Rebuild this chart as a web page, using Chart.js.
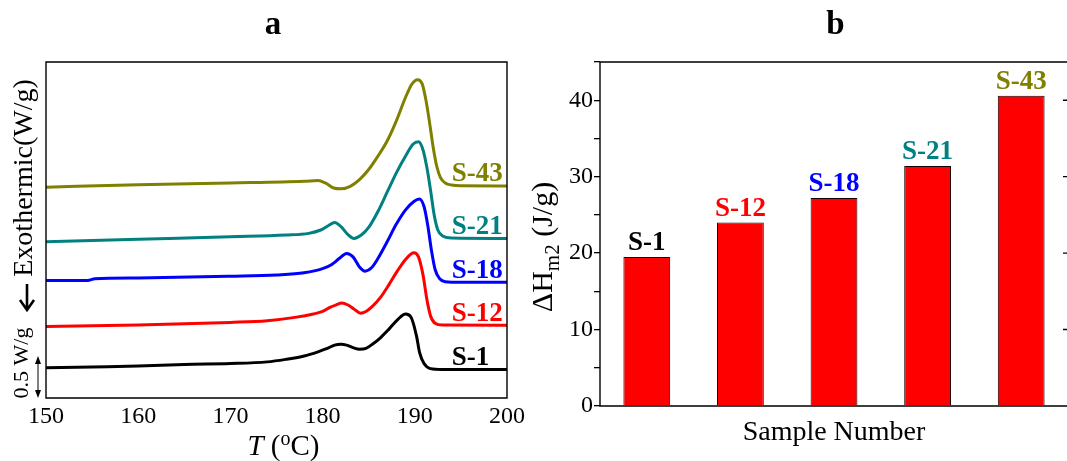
<!DOCTYPE html>
<html>
<head>
<meta charset="utf-8">
<title>DSC curves and melting enthalpy</title>
<script src="https://cdn.jsdelivr.net/npm/chart.js@4.4.1/dist/chart.umd.min.js"></script>
<style>
  html, body { margin: 0; padding: 0; background: #fff; overflow: hidden; }
  body { width: 1067px; height: 461px; position: relative; }
  canvas { position: absolute; top: 0; }
  #dsc { left: 0; }
  #enthalpy { left: 500px; }
</style>
</head>
<body>
<canvas id="dsc" width="546" height="461"></canvas>
<canvas id="enthalpy" width="671" height="461"></canvas>
<script>
const SERIF = '"Liberation Serif", "Times New Roman", serif';

const sampleNames = ['S-1', 'S-12', 'S-18', 'S-21', 'S-43'];
const sampleColors = ['#000000', '#ff0000', '#0000ff', '#008080', '#808000'];

// melting enthalpy of the second heating, J/g
const enthalpyM2 = [19.5, 24.0, 27.2, 31.4, 40.6];

// heating traces, [T (°C), heat flow (W/g, curves shifted apart)]
const curveS1 = [[150, 0.36], [155, 0.37], [160, 0.38], [165, 0.40], [170, 0.41], [174, 0.43], [176, 0.46],
  [178, 0.50], [179.5, 0.55], [180.5, 0.59], [181.3, 0.63], [182, 0.64], [182.6, 0.63], [183.3, 0.60],
  [184, 0.58], [184.7, 0.59], [185.4, 0.64], [186.3, 0.72], [187.2, 0.82], [188.2, 0.94], [189, 1.0],
  [189.6, 0.96], [190.2, 0.73], [190.5, 0.55], [191, 0.41], [191.7, 0.35], [193, 0.34], [200, 0.34]];
const curveS12 = [[150, 0.85], [160, 0.87], [170, 0.90], [174, 0.92], [177, 0.96], [179, 1.0], [180, 1.03],
  [180.8, 1.08], [181.5, 1.11], [182.1, 1.13], [182.7, 1.11], [183.4, 1.06], [184.1, 1.01], [184.7, 1.03],
  [185.4, 1.09], [186.3, 1.20], [187.2, 1.35], [188.1, 1.51], [189, 1.65], [189.9, 1.73], [190.4, 1.68],
  [190.9, 1.46], [191.3, 1.18], [191.7, 0.98], [192.2, 0.89], [193, 0.868], [200, 0.865]];
const curveS18 = [[150, 1.40], [154.5, 1.40], [155.3, 1.42], [160, 1.43], [170, 1.45], [175, 1.465], [178, 1.49],
  [180, 1.54], [181, 1.59], [181.8, 1.66], [182.6, 1.72], [183.3, 1.68], [184, 1.56], [184.6, 1.51],
  [185.3, 1.55], [186, 1.66], [187, 1.86], [188, 2.07], [189, 2.24], [189.9, 2.34], [190.5, 2.37],
  [191, 2.28], [191.4, 2.06], [191.8, 1.76], [192.2, 1.53], [192.7, 1.42], [193.3, 1.385], [195, 1.377],
  [200, 1.377]];
const curveS21 = [[150, 1.86], [160, 1.89], [170, 1.92], [176, 1.94], [178.5, 1.96], [179.8, 2.00], [180.6, 2.05],
  [181.3, 2.09], [182, 2.04], [182.7, 1.95], [183.4, 1.90], [184.2, 1.94], [185, 2.03], [186, 2.22],
  [187, 2.45], [188, 2.68], [189, 2.88], [189.8, 3.02], [190.4, 3.05], [190.9, 2.95], [191.3, 2.75],
  [191.7, 2.48], [192.1, 2.18], [192.5, 2.00], [193, 1.93], [194, 1.905], [200, 1.90]];
const curveS43 = [[150, 2.51], [160, 2.54], [170, 2.56], [178, 2.58], [179.5, 2.59], [180.3, 2.56], [181.2, 2.50],
  [182, 2.49], [183, 2.52], [184, 2.60], [185, 2.72], [186, 2.88], [187, 3.06], [188, 3.30], [189, 3.58],
  [189.7, 3.74], [190.3, 3.79], [190.8, 3.74], [191.2, 3.55], [191.6, 3.28], [192, 2.98], [192.4, 2.75],
  [192.8, 2.62], [193.3, 2.56], [194, 2.535], [195, 2.527], [200, 2.525]];

const curves = [curveS1, curveS12, curveS18, curveS21, curveS43];

// closed box round the plot area plus inward tick marks taken from the scales
const axisFrame = {
  id: 'axisFrame',
  afterDatasetsDraw(chart, args, opts) {
    const { ctx, chartArea: a } = chart;
    ctx.save();
    ctx.strokeStyle = '#000';
    ctx.lineWidth = opts.width;
    ctx.beginPath();
    for (const m of opts.marks) {
      const scale = chart.scales[m.scale];
      let values = scale.ticks.map(t => t.value);
      if (m.every) values = values.filter(v => v % m.every === 0);
      if (m.between) values = values.concat(values.slice(1).map(v => v - 0.5));
      for (const v of values) {
        const p = scale.getPixelForValue(v);
        if (m.side === 'bottom') { ctx.moveTo(p, a.bottom); ctx.lineTo(p, a.bottom - m.len); }
        if (m.side === 'top') { ctx.moveTo(p, a.top); ctx.lineTo(p, a.top + m.len); }
        if (m.side === 'left') { ctx.moveTo(a.left, p); ctx.lineTo(a.left + m.len, p); }
        if (m.side === 'right') { ctx.moveTo(a.right, p); ctx.lineTo(a.right - m.len, p); }
      }
    }
    ctx.rect(a.left, a.top, a.right - a.left, a.bottom - a.top);
    ctx.stroke();
    ctx.restore();
  }
};

// draws runs of text with their own fonts and baseline shifts, centred on (0,0)
function drawRuns(ctx, runs) {
  let total = 0;
  for (const r of runs) { ctx.font = r.font; total += ctx.measureText(r.text).width; }
  let x = -total / 2;
  ctx.textAlign = 'left';
  ctx.textBaseline = 'alphabetic';
  for (const r of runs) {
    ctx.font = r.font;
    ctx.fillText(r.text, x, r.shift || 0);
    x += ctx.measureText(r.text).width;
  }
}

const dscNotes = {
  id: 'dscNotes',
  afterDraw(chart) {
    const { ctx, chartArea: a, scales: { x, y } } = chart;
    ctx.save();

    ctx.font = `bold 27px ${SERIF}`;
    ctx.textAlign = 'left';
    ctx.textBaseline = 'alphabetic';
    chart.data.datasets.forEach((ds, i) => {
      const pts = chart.getDatasetMeta(i).data;
      const last = pts[pts.length - 1];
      ctx.fillStyle = ds.borderColor;
      ctx.fillText(ds.label, x.getPixelForValue(194.0), last.y - 4.5);
    });

    ctx.fillStyle = '#000';
    ctx.strokeStyle = '#000';
    ctx.save();
    ctx.translate(a.left - 21, 178);
    ctx.rotate(-Math.PI / 2);
    ctx.font = `28px ${SERIF}`;
    ctx.textAlign = 'center';
    ctx.textBaseline = 'middle';
    ctx.fillText('Exothermic(W/g)', 0, 0);
    ctx.restore();

    // downward arrow under the axis title
    const ax = a.left - 19;
    ctx.lineWidth = 2.6;
    ctx.beginPath();
    ctx.moveTo(ax, 284);
    ctx.lineTo(ax, 309);
    ctx.moveTo(ax - 7, 300);
    ctx.lineTo(ax, 310);
    ctx.lineTo(ax + 7, 300);
    ctx.stroke();

    ctx.save();
    ctx.translate(a.left - 24, 363);
    ctx.rotate(-Math.PI / 2);
    ctx.font = `22px ${SERIF}`;
    ctx.textAlign = 'center';
    ctx.textBaseline = 'middle';
    ctx.fillText('0.5 W/g', 0, 0);
    ctx.restore();

    // 0.5 W/g scale bar
    const bx = a.left - 8;
    const y0 = y.getPixelForValue(0.5);
    const y1 = y.getPixelForValue(0);
    ctx.lineWidth = 1;
    ctx.beginPath();
    ctx.moveTo(bx, y0 + 6);
    ctx.lineTo(bx, y1 - 6);
    ctx.stroke();
    ctx.beginPath();
    ctx.moveTo(bx, y0); ctx.lineTo(bx - 3, y0 + 8); ctx.lineTo(bx + 3, y0 + 8); ctx.closePath();
    ctx.moveTo(bx, y1); ctx.lineTo(bx - 3, y1 - 8); ctx.lineTo(bx + 3, y1 - 8); ctx.closePath();
    ctx.fill();

    ctx.save();
    ctx.translate((a.left + a.right) / 2 + 7, 455);
    drawRuns(ctx, [
      { font: `italic 29px ${SERIF}`, text: 'T' },
      { font: `29px ${SERIF}`, text: ' (' },
      { font: `20px ${SERIF}`, text: 'o', shift: -10 },
      { font: `29px ${SERIF}`, text: 'C)' }
    ]);
    ctx.restore();
    ctx.restore();
  }
};

const barNotes = {
  id: 'barNotes',
  afterDraw(chart) {
    const { ctx, chartArea: a } = chart;
    ctx.save();
    ctx.font = `bold 27px ${SERIF}`;
    ctx.textAlign = 'center';
    ctx.textBaseline = 'alphabetic';
    chart.getDatasetMeta(0).data.forEach((bar, i) => {
      ctx.fillStyle = sampleColors[i];
      ctx.fillText(sampleNames[i], bar.x, bar.y - 7);
    });

    ctx.fillStyle = '#000';
    ctx.translate(a.left - 48, 247);
    ctx.rotate(-Math.PI / 2);
    drawRuns(ctx, [
      { font: `30px ${SERIF}`, text: '\u0394H' },
      { font: `21px ${SERIF}`, text: 'm2', shift: 7 },
      { font: `30px ${SERIF}`, text: ' (J/g)' }
    ]);
    ctx.restore();
  }
};

const tickFont = { family: SERIF, size: 24 };
const hidden = { display: false, drawTicks: false };
const panelTitle = text => ({
  display: true, text, color: '#000',
  font: { family: SERIF, size: 33, weight: 'bold' },
  padding: { top: 5.3, bottom: 17.1 }
});

new Chart(document.getElementById('dsc'), {
  type: 'line',
  data: {
    datasets: curves.map((pts, i) => ({
      label: sampleNames[i],
      data: pts.map(p => ({ x: p[0], y: p[1] })),
      borderColor: sampleColors[i],
      borderWidth: 3,
      pointRadius: 0,
      cubicInterpolationMode: 'monotone',
      fill: false
    }))
  },
  options: {
    responsive: false,
    animation: false,
    events: [],
    plugins: {
      legend: { display: false },
      tooltip: { enabled: false },
      title: panelTitle('a'),
      axisFrame: {
        width: 1.4,
        marks: [
          { scale: 'x', side: 'bottom', len: 5 },
          { scale: 'x', side: 'top', len: 5 },
          { scale: 'y', side: 'left', len: 5 },
          { scale: 'y', side: 'right', len: 5 }
        ]
      }
    },
    scales: {
      x: {
        type: 'linear', min: 150, max: 200,
        ticks: {
          stepSize: 5, autoSkip: false, maxRotation: 0, padding: 4, color: '#000', font: tickFont,
          callback: v => (v % 10 === 0 ? v : '')
        },
        grid: hidden,
        border: { display: false },
        afterFit: s => { s.height = 63; }
      },
      y: {
        min: 0, max: 4,
        ticks: { stepSize: 0.5, display: false },
        grid: hidden,
        border: { display: false },
        afterFit: s => { s.width = 46; }
      },
      y2: {
        position: 'right', min: 0, max: 4,
        ticks: { display: false },
        grid: hidden,
        border: { display: false },
        afterFit: s => { s.width = 39; }
      }
    }
  },
  plugins: [axisFrame, dscNotes]
});

new Chart(document.getElementById('enthalpy'), {
  type: 'bar',
  data: {
    labels: sampleNames,
    datasets: [{
      data: enthalpyM2,
      backgroundColor: '#ff0000',
      borderColor: '#1a0000',
      borderWidth: 1,
      barPercentage: 0.5,
      categoryPercentage: 1
    }]
  },
  options: {
    responsive: false,
    animation: false,
    events: [],
    plugins: {
      legend: { display: false },
      tooltip: { enabled: false },
      title: panelTitle('b'),
      axisFrame: {
        width: 1.4,
        marks: [
          { scale: 'x', side: 'bottom', len: 5, between: true },
          { scale: 'x', side: 'top', len: 5, between: true },
          { scale: 'y', side: 'right', len: 5, every: 10 }
        ]
      }
    },
    scales: {
      x: {
        ticks: { display: false },
        grid: hidden,
        border: { display: false },
        title: {
          display: true, text: 'Sample Number', color: '#000',
          font: { family: SERIF, size: 28 }, padding: { top: 0, bottom: 12 }
        },
        afterFit: s => { s.height = 55; }
      },
      y: {
        min: 0, max: 45,
        ticks: {
          stepSize: 5, padding: 1, color: '#000', font: tickFont,
          callback: v => (v % 10 === 0 ? v : '')
        },
        grid: { display: true, drawOnChartArea: false, drawTicks: true, tickLength: 6, color: '#000', lineWidth: 1.3 },
        border: { display: false },
        afterFit: s => { s.width = 100; }
      },
      y2: {
        position: 'right', min: 0, max: 45,
        ticks: { display: false, stepSize: 5 },
        grid: hidden,
        border: { display: false },
        afterFit: s => { s.width = 103; }
      }
    }
  },
  plugins: [axisFrame, barNotes]
});
</script>
</body>
</html>
